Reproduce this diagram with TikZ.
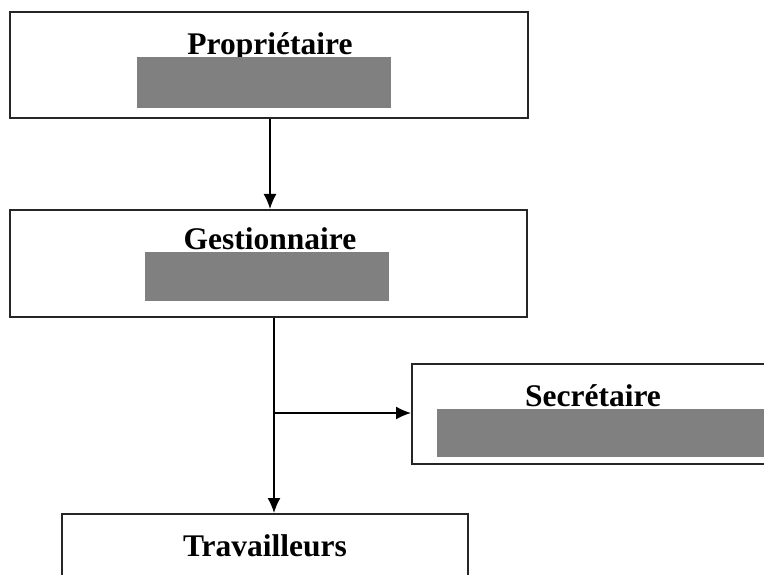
\documentclass[tikz,border=0pt]{standalone}
\usepackage{fontspec}
\setmainfont{Liberation Serif}
\usetikzlibrary{arrows.meta}
\begin{document}
\begin{tikzpicture}[x=1pt,y=-1pt,
  box/.style={draw=black!85, line width=2pt, fill=white, inner sep=0pt},
  lbl/.style={font=\fontsize{31.5}{36}\selectfont\bfseries, inner sep=0pt, anchor=base},
  mask/.style={fill=black!50, draw=none},
  arr/.style={line width=1.5pt, -{Latex[length=15pt,width=13pt]}},
  ln/.style={line width=1.5pt}]
\useasboundingbox (0,0) rectangle (764,575);
% boxes
\node[box, minimum width=518pt, minimum height=106pt] (p) at (269,65) {};
\node[box, minimum width=517pt, minimum height=107pt] (g) at (268.5,263.5) {};
\node[box, minimum width=360pt, minimum height=100pt] (s) at (592,414) {};
\node[box, minimum width=406pt, minimum height=106pt] (t) at (265,567) {};
% labels
\node[lbl] (pl) at (270,55) {Propriétaire};
\node[lbl] (gl) at (270,250) {Gestionnaire};
\node[lbl] (sl) at (593,406) {Secrétaire};
\node[lbl] (tl) at (265,556) {Travailleurs};
% grey masks
\fill[mask] (137,57) rectangle (391,108);
\fill[mask] (145,252) rectangle (389,301);
\fill[mask] (437,409) rectangle (764,457);
% connectors
\coordinate (j) at (274,413);
\draw[arr] ([xshift=1pt]p.south) -- ([xshift=1.5pt]g.north);
\draw[ln] (g.south -| j) -- (j);
\draw[arr] (j) -- (t.north -| j);
\draw[arr] (j) -- (s.west |- j);
\end{tikzpicture}
\end{document}
